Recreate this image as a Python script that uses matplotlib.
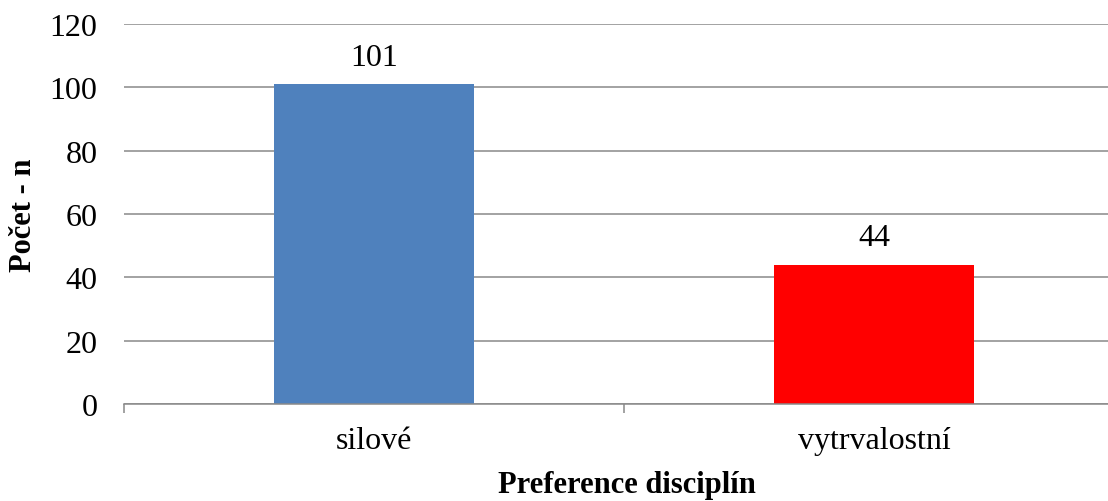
import matplotlib
matplotlib.use("Agg")
import matplotlib.pyplot as plt

categories = ["silové", "vytrvalostní"]
values = [101, 44]
colors = ["#4F81BD", "#FF0000"]
yticks = [0, 20, 40, 60, 80, 100, 120]

plt.rcParams['font.family'] = ['Liberation Serif', 'DejaVu Serif']

fig = plt.figure(figsize=(11.08, 5.02), dpi=100)
ax = fig.add_axes([124/1108, 97/502, 1000/1108, 380/502])

x = list(range(len(categories)))
bars = ax.bar(x, values, width=0.4, color=colors, zorder=3)

for xi, v in zip(x, values):
    ax.annotate(str(v), (xi, v), xytext=(0, 9), textcoords="offset points",
                ha="center", va="bottom", fontsize=23)

ax.set_xlim(-0.5, len(categories) - 0.5)
ax.set_ylim(0, 120)
ax.set_yticks(yticks)
ax.set_yticklabels([str(t) for t in yticks], fontsize=23)
ax.set_xticks(x)
ax.set_xticklabels(categories, fontsize=23)
ax.set_xticks([i - 0.5 for i in range(len(categories) + 1)], minor=True)

ax.tick_params(axis="y", length=0, pad=19)
ax.tick_params(axis="x", which="major", length=0, pad=16)
ax.tick_params(axis="x", which="minor", length=6.5, width=1.1, color="#898989")

ax.grid(axis="y", color="#898989", linewidth=1.1, zorder=0)
for s in ["left", "right", "top"]:
    ax.spines[s].set_visible(False)
ax.spines["bottom"].set_color("#898989")
ax.spines["bottom"].set_linewidth(1.1)
ax.spines["bottom"].set_zorder(4)

ax.set_ylabel("Počet - n", fontsize=22, fontweight="bold", va="center")
ax.yaxis.set_label_coords(-0.100, 0.5)
ax.set_xlabel("Preference disciplín", fontsize=22, fontweight="bold", va="center")
ax.xaxis.set_label_coords(0.503, -0.213)

fig.savefig("out.png", dpi=100)
